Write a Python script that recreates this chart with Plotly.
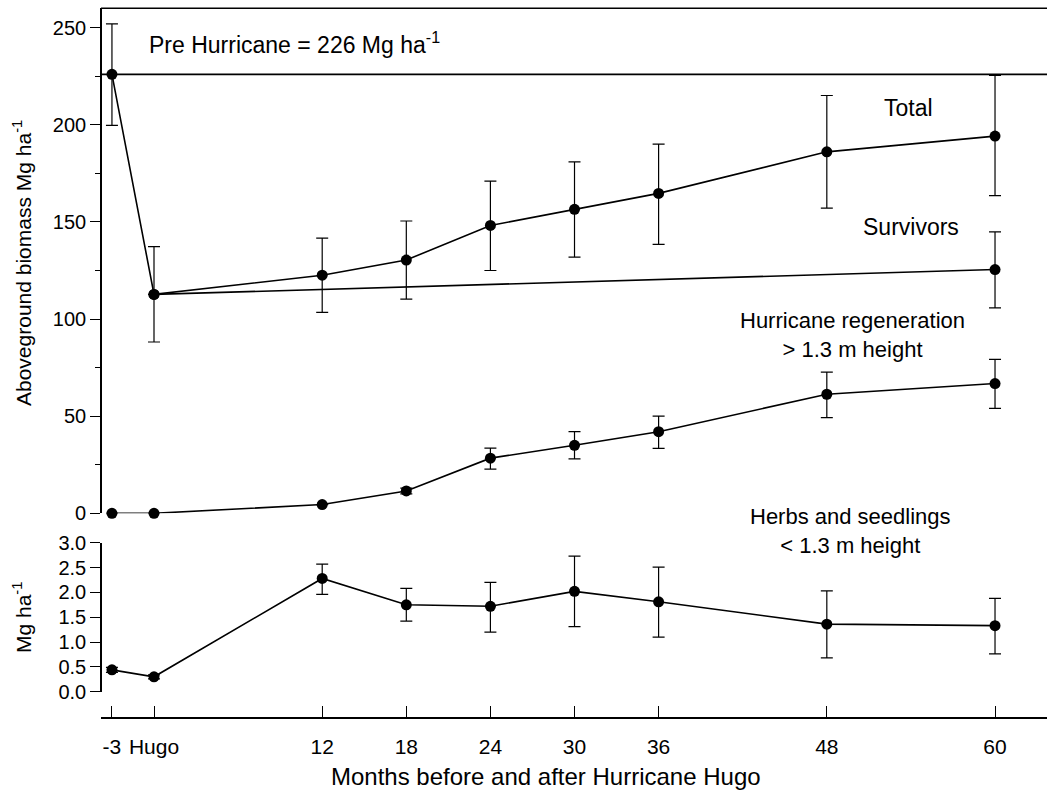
import plotly.graph_objects as go

# ---------------- data ----------------
months = [-3, 0, 12, 18, 24, 30, 36, 48, 60]
tick_labels = ["-3", "Hugo", "12", "18", "24", "30", "36", "48", "60"]

total = [226, 112.7, 122.6, 130.4, 148.2, 156.5, 164.7, 186.1, 194.2]
total_hi = [252, 137.3, 141.7, 150.5, 171.0, 180.9, 190.1, 215.1, 225.5]
total_lo = [199.7, 88.2, 103.4, 110.3, 125.0, 131.9, 138.5, 157.1, 163.6]

surv_months = [0, 60]
survivors = [112.7, 125.5]
surv_hi = [112.7, 144.9]
surv_lo = [112.7, 105.8]

regen = [0, 0, 4.5, 11.5, 28.4, 35.0, 42.0, 61.3, 66.8]
regen_hi = [0, 0, 4.5, 13.0, 33.6, 42.0, 50.0, 72.7, 79.2]
regen_lo = [0, 0, 4.5, 10.0, 22.7, 28.0, 33.4, 49.3, 54.0]

herbs = [0.44, 0.30, 2.28, 1.75, 1.72, 2.02, 1.81, 1.36, 1.33]
herbs_hi = [0.49, 0.34, 2.57, 2.08, 2.20, 2.73, 2.51, 2.03, 1.88]
herbs_lo = [0.39, 0.26, 1.96, 1.42, 1.20, 1.31, 1.10, 0.68, 0.76]

pre_hurricane = 226

# ---------------- figure ----------------
FONT = "Liberation Sans, Arial, sans-serif"
W, H = 1047, 797
L = 101


def err(vals, hi, lo):
    return dict(type="data", symmetric=False,
                array=[h - v for v, h in zip(vals, hi)],
                arrayminus=[v - l for v, l in zip(vals, lo)],
                color="black", thickness=1.2, width=6)


def series(x, y, hi, lo, yaxis):
    return go.Scatter(x=x, y=y, mode="lines+markers", yaxis=yaxis,
                      line=dict(color="black", width=1.6),
                      marker=dict(color="black", size=11, symbol="circle"),
                      error_y=err(y, hi, lo), cliponaxis=False,
                      showlegend=False, hoverinfo="x+y")


fig = go.Figure()
fig.add_trace(series(surv_months, survivors, surv_hi, surv_lo, "y"))
fig.add_trace(series(months, total, total_hi, total_lo, "y"))
fig.add_trace(series(months, regen, regen_hi, regen_lo, "y"))
fig.add_trace(series(months, herbs, herbs_hi, herbs_lo, "y2"))

x_left_px, x0_px, px_per_month = L, 154, 14.017
x_range = [(x_left_px - x0_px) / px_per_month, (W - x0_px) / px_per_month]

fig.update_layout(
    width=W, height=H,
    margin=dict(l=L, r=0, t=0, b=0, pad=0, autoexpand=False),
    paper_bgcolor="white", plot_bgcolor="white",
    font=dict(family=FONT, size=20, color="black"),
    xaxis=dict(domain=[0, 1], range=x_range, anchor="free", position=1 - 718 / H,
               tickmode="array", tickvals=months, ticktext=tick_labels,
               ticks="inside", ticklen=11, tickwidth=1.2, tickcolor="black",
               ticklabelstandoff=10, automargin=False,
               showline=True, linecolor="black", linewidth=1.6,
               showgrid=False, zeroline=False,
               tickfont=dict(size=21)),
    yaxis=dict(domain=[1 - 513.3 / H, 1 - 8.3 / H], range=[0, 260],
               anchor="free", position=0, automargin=False,
               tickmode="linear", tick0=0, dtick=50,
               ticks="outside", ticklen=10, tickwidth=1.2, tickcolor="black",
               minor=dict(tick0=0, dtick=25, ticks="outside", ticklen=5,
                          tickwidth=1.2, tickcolor="black", showgrid=False),
               showline=True, linecolor="black", linewidth=1.6,
               showgrid=False, zeroline=False, tickfont=dict(size=20)),
    yaxis2=dict(domain=[1 - 691.7 / H, 1 - 542.7 / H], range=[0, 3.0],
                anchor="free", position=0, automargin=False,
                tickmode="linear", tick0=0, dtick=0.5, tickformat=".1f",
                ticks="outside", ticklen=10, tickwidth=1.2, tickcolor="black",
                showline=True, linecolor="black", linewidth=1.6,
                showgrid=False, zeroline=False, tickfont=dict(size=20)),
)

# Pre-hurricane reference line and top border of the upper panel
fig.add_shape(type="line", xref="x domain", x0=0, x1=1, yref="y",
              y0=pre_hurricane, y1=pre_hurricane,
              line=dict(color="black", width=1.6))
fig.add_shape(type="line", xref="x domain", x0=0, x1=1, yref="y domain",
              y0=1, y1=1, line=dict(color="black", width=1.6))


def px_x(px):
    return (px - x0_px) / px_per_month


def ann(text, x, y, yref="y", size=23, xanchor="center"):
    fig.add_annotation(text=text, x=x, y=y, xref="x", yref=yref,
                       showarrow=False, xanchor=xanchor, yanchor="middle",
                       font=dict(family=FONT, size=size, color="black"))


ann(f"Pre Hurricane = {pre_hurricane} Mg ha<sup>-1</sup>", px_x(147), 242,
    xanchor="left")
ann("Total", px_x(908), 208.5)
ann("Survivors", px_x(911), 147.2)
ann("Hurricane regeneration<br>&gt; 1.3 m height", px_x(852), 1 - 335 / H,
    yref="paper", size=22)
ann("Herbs and seedlings<br>&lt; 1.3 m height", px_x(850), 1 - 531 / H,
    yref="paper", size=22)

# axis titles
fig.add_annotation(text="Aboveground biomass Mg ha<sup>-1</sup>", textangle=-90,
                   xref="paper", yref="paper", x=(22 - L) / (W - L), y=1 - 263 / H,
                   showarrow=False, xanchor="center", yanchor="middle",
                   font=dict(family=FONT, size=21, color="black"))
fig.add_annotation(text="Mg ha<sup>-1</sup>", textangle=-90,
                   xref="paper", yref="paper", x=(22 - L) / (W - L), y=1 - 618 / H,
                   showarrow=False, xanchor="center", yanchor="middle",
                   font=dict(family=FONT, size=21, color="black"))
fig.add_annotation(text="Months before and after Hurricane Hugo",
                   xref="paper", yref="paper", x=(546 - L) / (W - L), y=1 - 776 / H,
                   showarrow=False, xanchor="center", yanchor="middle",
                   font=dict(family=FONT, size=24, color="black"))

fig.write_html("out.html")
